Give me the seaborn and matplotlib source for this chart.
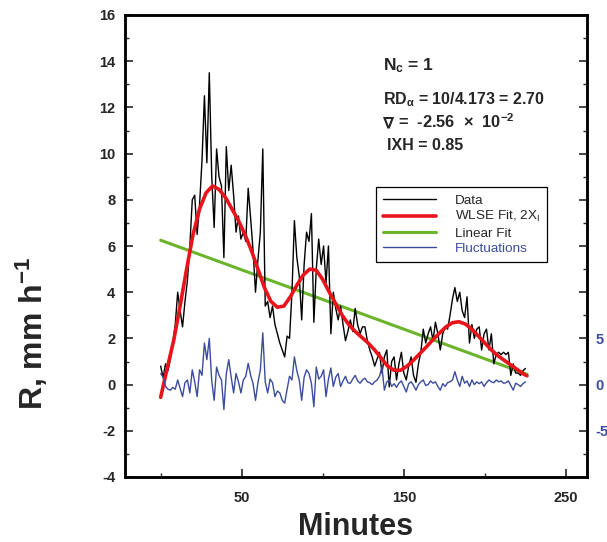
import numpy as np
import pandas as pd
import matplotlib
matplotlib.use("Agg")
import matplotlib.pyplot as plt
import seaborn as sns
from matplotlib.ticker import MultipleLocator, FixedLocator, FixedFormatter
from matplotlib.lines import Line2D

# ---------------- data ----------------
sample_step = 1.5  # minutes between samples
rain_rate = [0.8, 0.3, 0.9, 0.6, 1.1, 1.8, 2.6, 4.0, 3.2, 2.5,
             3.6, 4.5, 6.0, 8.0, 8.2, 6.5, 7.8, 9.7, 12.5, 9.6,
             13.5, 9.0, 6.8, 10.2, 9.0, 8.6, 5.5, 10.3, 8.4, 9.5,
             8.2, 6.6, 7.3, 6.3, 6.6, 6.2, 8.5, 7.2, 5.8, 4.0,
             5.4, 6.6, 10.2, 3.4, 3.6, 2.9, 3.4, 2.6, 2.2, 1.8,
             1.5, 1.2, 2.1, 2.0, 4.0, 7.1, 5.5, 4.7, 2.8, 5.2,
             6.6, 6.2, 7.4, 2.7, 5.0, 6.3, 5.2, 6.0, 4.4, 6.0,
             2.2, 4.0, 3.3, 2.8, 3.4, 2.6, 1.9, 2.3, 2.8, 2.3,
             3.3, 2.6, 2.2, 2.5, 2.5, 1.9, 1.5, 1.2, 0.8, 1.1,
             1.4, 0.5, 1.2, 1.5, -0.1, 1.0, 1.2, 0.2, 0.9, 1.4,
             0.5, 0.2, 0.8, 1.2, 0.4, 0.1, 0.9, 1.4, 2.4, 1.8,
             2.2, 2.5, 1.9, 2.7, 2.2, 1.5, 2.2, 2.5, 2.4, 3.0,
             3.7, 4.2, 3.6, 4.0, 3.2, 2.9, 3.8, 1.8, 2.6, 2.0,
             2.4, 2.5, 1.5, 2.2, 2.4, 1.5, 2.2, 0.9, 1.3, 1.4,
             1.3, 1.4, 1.3, 1.4, 0.4, 0.9, 0.5, 0.5, 0.4, 0.6,
             0.7]

fluctuations = [1.2, 0.8, -0.2, -0.5, -0.6, -0.3, -0.5, 0.5, -0.4, -1.3,
                0.2, 0.5, -0.9, 1.6, 0.3, -1.3, 1.6, 1.0, 4.5, 2.7,
                5.0, 0.4, -1.7, 1.9, 1.0, 0.5, -2.7, 1.2, 2.7, 0.8,
                -0.9, 1.2, 0.3, -0.9, 0.5, 0.9, 2.3, 1.0, 0.1, -1.7,
                0.2, 1.6, 5.6, 0.3, -0.9, 0.6, 0.2, -1.3, -0.7, -0.9,
                -1.7, -2.0, -0.5, 0.9, 0.5, 3.0, 1.5, 0.5, -1.7, 0.8,
                1.6, 1.2, 0.15, -2.4, 1.9, 0.6, 0.9, 1.6, -1.3, 0.6,
                1.8, -0.2, 0.8, 1.2, -0.2, 0.4, 0.9, 0.2, 0.15, 0.6,
                1.0, 0.4, 0.15, 0.5, 0.7, 0.3, 0.2, 0.0, 0.3, 0.5,
                0.9, 1.9, -0.6, 0.3, 0.5, -0.2, 0.1, -0.3, 0.15, 0.4,
                -0.2, -0.8, 0.1, 0.3, -0.1, -0.6, 0.0, 0.3, 0.5, -0.1,
                0.0, 0.4, 0.15, 0.3, -0.2, -0.6, 0.1, -0.2, 0.2, 0.3,
                0.5, 1.4, 0.5, -0.2, 0.9, 0.15, 0.4, -0.2, 0.5, 0.0,
                0.3, 0.1, 0.3, -0.2, 0.2, 0.5, 0.3, 0.2, 0.5, 0.3,
                0.4, 0.15, 0.2, 0.4, -0.1, -0.6, 0.15, 0.0, -0.2, 0.1,
                0.3]

fit_minutes = [0, 4, 8, 12, 16, 20, 24, 28, 32, 36, 40, 44, 48, 52, 56, 60,
               64, 68, 72, 76, 80, 84, 88, 92, 96, 100, 104, 108, 112, 116,
               120, 124, 128, 132, 136, 140, 144, 148, 152, 156, 160, 164,
               168, 172, 176, 180, 184, 188, 192, 196, 200, 204, 208, 212,
               216, 220, 224, 226]
fit_values = [-0.55, 0.7, 1.9, 3.4, 5.0, 6.5, 7.6, 8.3, 8.6, 8.45, 8.1, 7.6,
              7.1, 6.5, 5.8, 5.0, 4.2, 3.6, 3.35, 3.4, 3.8, 4.3, 4.75, 5.0,
              4.95, 4.55, 4.0, 3.5, 3.0, 2.6, 2.3, 2.05, 1.8, 1.5, 1.15, 0.8,
              0.62, 0.62, 0.8, 1.06, 1.35, 1.64, 1.95, 2.23, 2.5, 2.68, 2.72,
              2.62, 2.4, 2.1, 1.8, 1.5, 1.25, 1.05, 0.85, 0.65, 0.45, 0.38]

linear_minutes = [0, 226]
linear_values = [6.25, 0.45]

x_major_ticks = [50, 150, 250]
x_minor_ticks = [0, 100, 200]
right_labels = {-5: "-5", 0: "0", 5: "5"}

# ---------------- frames ----------------
minutes = np.arange(len(rain_rate)) * sample_step
df_data = pd.DataFrame({"Minutes": minutes, "R": rain_rate, "F": fluctuations})
df_fit = pd.DataFrame({"Minutes": fit_minutes, "R": fit_values})
df_lin = pd.DataFrame({"Minutes": linear_minutes, "R": linear_values})

sns.set_style("ticks")
plt.rcParams["font.family"] = ["Liberation Sans", "DejaVu Sans"]
plt.rcParams["axes.unicode_minus"] = False

BLACK = "#000000"
RED = "#e8141c"
GREEN = "#6cb42c"
BLUE = "#3b4c9e"

fig = plt.figure(figsize=(6.07, 5.42), dpi=100)
ax = fig.add_axes([125 / 607, 65 / 542, 462 / 607, 462 / 542])
ax2 = ax.twinx()

sns.lineplot(data=df_lin, x="Minutes", y="R", ax=ax, color=GREEN, lw=2.2, zorder=2)
sns.lineplot(data=df_data, x="Minutes", y="R", ax=ax, color=BLACK, lw=1.0, zorder=3)
sns.lineplot(data=df_fit, x="Minutes", y="R", ax=ax, color=RED, lw=2.6, zorder=4)
sns.lineplot(data=df_data, x="Minutes", y="F", ax=ax2, color=BLUE, lw=1.0, zorder=3)

ax.set_xlim(-22, 263)
ax.set_ylim(-4, 16)
ax2.set_ylim(-10, 40)

ax.xaxis.set_major_locator(FixedLocator(x_major_ticks))
ax.xaxis.set_minor_locator(FixedLocator(x_minor_ticks))
ax.yaxis.set_major_locator(MultipleLocator(2))
ax.yaxis.set_minor_locator(MultipleLocator(1))

r_ticks = list(range(-10, 45, 5))
ax2.yaxis.set_major_locator(FixedLocator(r_ticks))
ax2.yaxis.set_major_formatter(FixedFormatter([right_labels.get(t, "") for t in r_ticks]))
ax2.yaxis.set_minor_locator(MultipleLocator(2.5))

for a in (ax, ax2):
    for s in a.spines.values():
        s.set_linewidth(1.8)
        s.set_color("black")
ax.tick_params(axis="both", which="major", direction="in", length=6, width=1.2,
               labelsize=10.5)
ax.tick_params(axis="both", which="minor", direction="in", length=3, width=1.0)
ax.tick_params(axis="x", which="major", pad=10)
ax.tick_params(axis="y", which="major", pad=7)
ax2.tick_params(axis="y", which="major", direction="in", length=6, width=1.2,
                labelsize=10.5, pad=6, labelcolor=BLUE)
ax2.tick_params(axis="y", which="minor", direction="in", length=3, width=1.0)
for lbl in ax.get_xticklabels() + ax.get_yticklabels() + ax2.get_yticklabels():
    lbl.set_fontweight("bold")

ax.set_xlabel("Minutes", fontsize=22, fontweight="bold", labelpad=5)
ax.set_ylabel(r"R, mm h$\mathregular{^{-1}}$", fontsize=23, fontweight="bold")
ax.yaxis.set_label_coords(-0.162, 0.31)
ax2.set_ylabel("")

# annotations
ax.text(137, 13.6, r"N$\mathregular{_c}$ = 1", fontsize=12.5, fontweight="bold",
        ha="left", va="baseline")
ax.text(137, 12.13, r"RD$\mathregular{_{α}}$ = 10/4.173 = 2.70", fontsize=11.5,
        fontweight="bold", ha="left", va="baseline")
ax.text(137, 11.1, "∇", fontsize=11.5, fontweight="bold", ha="left",
        va="baseline", family=["DejaVu Sans"])
ax.text(146.5, 11.1, r"=  -2.56  ×  10$\mathregular{^{-2}}$", fontsize=11.8,
        fontweight="bold", ha="left", va="baseline")
ax.text(139.5, 10.15, "IXH = 0.85", fontsize=11.5, fontweight="bold",
        ha="left", va="baseline")

handles = [Line2D([], [], color=BLACK, lw=1.0),
           Line2D([], [], color=RED, lw=2.6),
           Line2D([], [], color=GREEN, lw=2.2),
           Line2D([], [], color=BLUE, lw=1.0)]
labels = ["Data", r"WLSE Fit, 2X$\mathregular{_I}$", "Linear Fit", "Fluctuations"]
leg = ax.legend(handles, labels, loc="upper left", bbox_to_anchor=(0.543, 0.628),
                borderaxespad=0, fontsize=9.7, handlelength=3.9, frameon=True,
                fancybox=False, edgecolor="black", framealpha=1,
                borderpad=0.55, labelspacing=0.2, handletextpad=1.4)
leg.get_frame().set_linewidth(0.9)
leg.get_texts()[3].set_color(BLUE)
leg.set_zorder(10)

fig.savefig("out.png", dpi=100)
